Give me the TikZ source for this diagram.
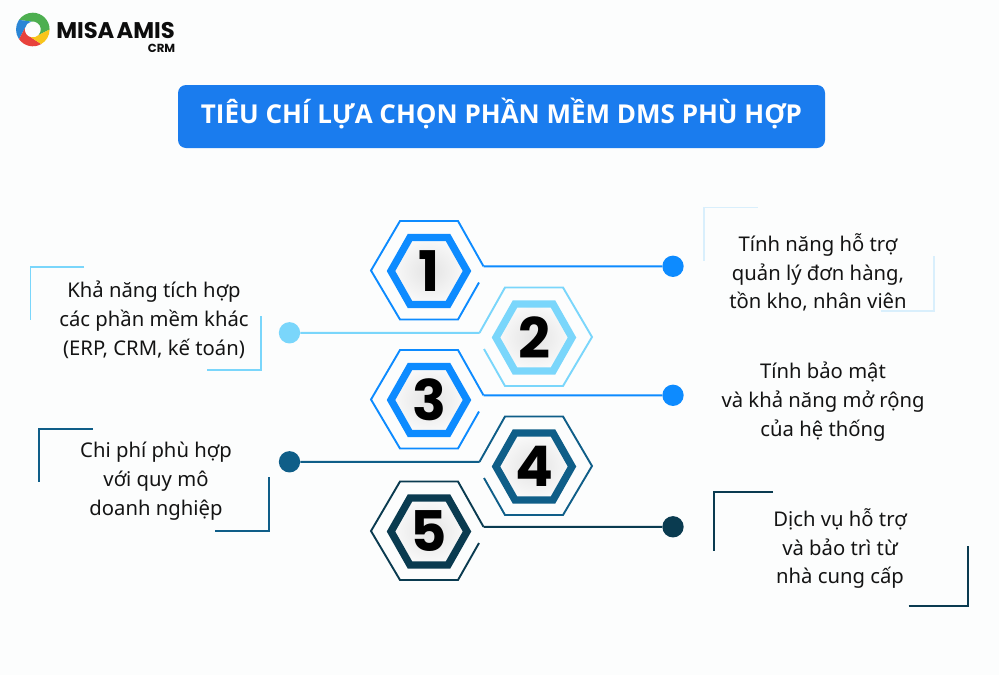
\documentclass[tikz,border=0pt]{standalone}
\usepackage{fontspec}
\setmainfont{Noto Sans}
\newfontfamily\popfont{Poppins}
\newfontfamily\logofont{Poppins}[WordSpace=0.45]
\newfontfamily\titlefont{Open Sans}
\definecolor{bgc}{HTML}{FCFDFD}
\definecolor{titleblue}{HTML}{1A7CEE}
\definecolor{cblue}{HTML}{0D8BFF}
\definecolor{clight}{HTML}{7AD6FB}
\definecolor{cpale}{HTML}{D9EFFC}
\definecolor{cmid}{HTML}{0F5E88}
\definecolor{cdark}{HTML}{0A3B50}
\definecolor{txt}{HTML}{141414}
\definecolor{lgreen}{HTML}{4DAF50}
\definecolor{lblue}{HTML}{2B86D6}
\definecolor{lred}{HTML}{E8423C}
\definecolor{lyellow}{HTML}{F8C51C}
\tikzset{
  px/.style={line width=#1*0.75pt},
  hexline/.style={px=1.9,line join=miter},
  dotnode/.style={circle,minimum size=16pt,inner sep=0pt,draw=none},
  conn/.style={px=2},
  bracket/.style={px=1.8},
  bodytext/.style={align=center,text=txt,inner sep=0pt,font=\fontsize{15.2}{21.6}\selectfont},
  numtext/.style={inner sep=0pt,text=black,font=\popfont\bfseries\fontsize{42}{42}\selectfont},
}
\newcommand{\hexnum}[6]{%
  \begin{scope}[shift={(#2,#3)},xscale=#6]
    \coordinate (#1j) at (54.5,-4.2);
    \draw[hexline,draw=#4] (#1j) -- (29,-49.5) -- (-29,-49.5) -- (-58,0) -- (-29,49) -- (29,49) -- (50,12);
    \shade[inner color=black!11,outer color=black!2]
      (-38,0.5) -- (-19,-33) -- (19,-33) -- (38,0.5) -- (19,34) -- (-19,34) -- cycle;
    \draw[px=7.4,draw=#4,line join=miter]
      (-38,0.5) -- (-19,-33) -- (19,-33) -- (38,0.5) -- (19,34) -- (-19,34) -- cycle;
    \node[numtext] (#1n) at (0,0.5) {#5};
  \end{scope}}
% logo segment: colour, outer start angle, outer end angle
\newcommand{\logoseg}[3]{%
  \fill[#1] (#2:16.8) arc[start angle=#2,end angle=#3,radius=16.8]
    -- ({#3-45}:8) arc[start angle={#3-45},end angle={#2-45},radius=8] -- cycle;}
\begin{document}
\begin{tikzpicture}[x=0.75pt,y=-0.75pt]
\useasboundingbox (0,0) rectangle (999,675);
\fill[bgc] (0,0) rectangle (999,675);

% logo
\begin{scope}[shift={(32.8,29.5)},y=0.75pt]
  \logoseg{lgreen}{0}{145}
  \logoseg{lblue}{145}{215}
  \logoseg{lred}{215}{300}
  \logoseg{lyellow}{300}{360}
\end{scope}
\node[inner sep=0pt,anchor=west,font=\logofont\bfseries\fontsize{17}{17}\selectfont,text=black!95] (logotext) at (56,30.5) {MISA AMIS};
\node[inner sep=0pt,anchor=east,font=\popfont\bfseries\fontsize{8.8}{9}\selectfont,text=black!95] (logosub) at (175.5,48) {CRM};

% title
\node[fill=titleblue,rounded corners=6pt,minimum width=485.25pt,minimum height=47.25pt,inner sep=0pt,text=white,text height=16pt,text depth=6.2pt,font=\titlefont\bfseries\fontsize{19.5}{19.5}\selectfont] (title) at (501.5,116.5) {TIÊU CHÍ LỰA CHỌN PHẦN MỀM DMS PHÙ HỢP};

% hexagons
\hexnum{a}{429}{270.5}{cblue}{1}{1}
\hexnum{b}{534}{337}{clight}{2}{-1}
\hexnum{c}{429}{399.5}{cblue}{3}{1}
\hexnum{d}{534}{466}{cmid}{4}{-1}
\hexnum{e}{429}{531}{cdark}{5}{1}

% dots
\node[dotnode,fill=cblue] (da) at (673,266.3) {};
\node[dotnode,fill=clight] (db) at (289.5,332.8) {};
\node[dotnode,fill=cblue] (dc) at (673,395.3) {};
\node[dotnode,fill=cmid] (dd) at (289.5,461.8) {};
\node[dotnode,fill=cdark] (de) at (673,526.8) {};

% connectors
\draw[conn,cblue] (aj) -- (da);
\draw[conn,clight] (bj) -- (db);
\draw[conn,cblue] (cj) -- (dc);
\draw[conn,cmid] (dj) -- (dd);
\draw[conn,cdark] (ej) -- (de);

% brackets
\draw[bracket,clight] (84,267) -| (30.5,320);
\draw[bracket,clight] (207,370) -| (261,316);
\draw[bracket,cmid] (92.7,428.7) -| (38.7,482);
\draw[bracket,cmid] (215,531) -| (269,477);
\draw[bracket,cpale] (757.7,207.5) -| (704,261);
\draw[bracket,cpale] (880.7,310.7) -| (934,256);
\draw[px=2,cdark] (773,492) -| (714,551);
\draw[px=2,cdark] (908.7,606) -| (968,546);

% texts
\node[bodytext] (ta) at (154,319.5) {Khả năng tích hợp\\các phần mềm khác\\(ERP, CRM, kế toán)};
\node[bodytext] (tb) at (156,481) {Chi phí phù hợp\\với quy mô\\doanh nghiệp};
\node[bodytext] (tc) at (818,272.5) {Tính năng hỗ trợ\\quản lý đơn hàng,\\tồn kho, nhân viên};
\node[bodytext] (td) at (823,401.5) {Tính bảo mật\\và khả năng mở rộng\\của hệ thống};
\node[bodytext] (te) at (840,548.5) {Dịch vụ hỗ trợ\\và bảo trì từ\\nhà cung cấp};
\end{tikzpicture}
\end{document}
